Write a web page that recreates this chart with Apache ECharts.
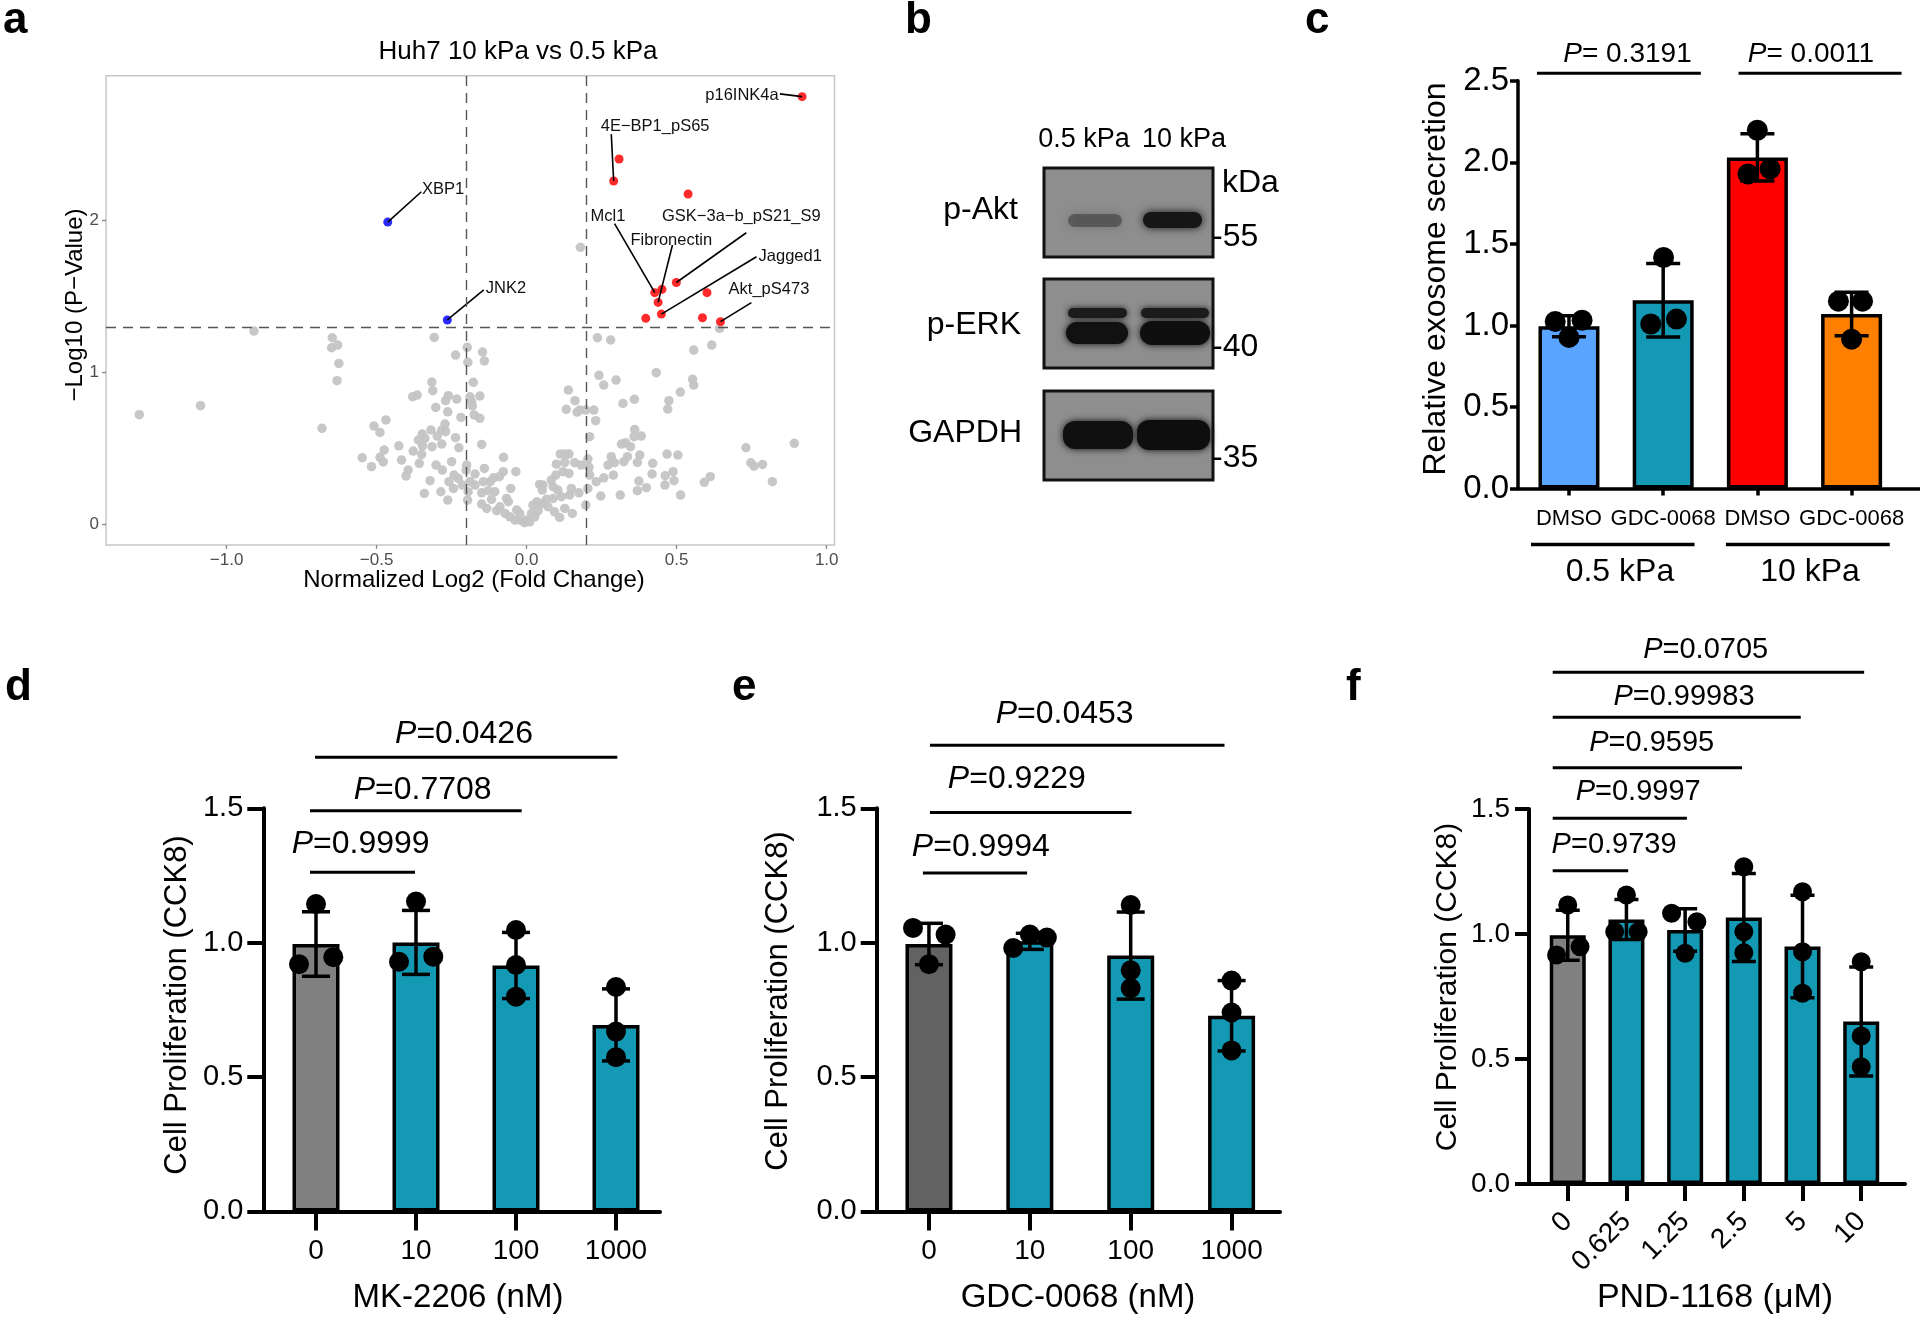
<!DOCTYPE html>
<html><head><meta charset="utf-8">
<script src="https://cdn.jsdelivr.net/npm/echarts@6/dist/echarts.min.js"></script>
<style>html,body{margin:0;padding:0;background:#fff}#c{width:1920px;height:1320px}</style>
</head><body><div id="c"></div>
<script>
const FF = '"Liberation Sans", Arial, Helvetica, sans-serif';

// ---------- Panel a: volcano ----------
const volcanoGray = [
[-0.909,1.272],[-1.291,0.721],[-1.087,0.780],[-0.648,1.228],[-0.650,1.162],[-0.630,1.180],[-0.626,1.059],[-0.632,0.945],[-0.682,0.631],[-0.308,1.230],[-0.237,1.114],[-0.198,1.165],[-0.147,1.134],[-0.141,1.075],[-0.196,1.066],[-0.178,0.934],[-0.316,0.936],[-0.313,0.879],[-0.380,0.839],[-0.365,0.850],[-0.261,0.846],[-0.270,0.813],[-0.233,0.824],[-0.303,0.769],[-0.263,0.740],[-0.189,0.839],[-0.183,0.806],[-0.181,0.778],[-0.156,0.844],[-0.219,0.703],[-0.175,0.719],[-0.156,0.697],[-0.469,0.686],[-0.509,0.646],[-0.489,0.604],[-0.319,0.620],[-0.272,0.659],[-0.283,0.620],[-0.270,0.609],[-0.298,0.580],[-0.348,0.593],[-0.361,0.554],[-0.339,0.565],[-0.347,0.516],[-0.315,0.510],[-0.283,0.527],[-0.237,0.569],[-0.226,0.503],[-0.150,0.525],[-0.426,0.516],[-0.475,0.488],[-0.378,0.481],[-0.350,0.459],[-0.548,0.437],[-0.489,0.440],[-0.478,0.409],[-0.517,0.378],[-0.417,0.422],[-0.358,0.400],[-0.395,0.356],[-0.402,0.317],[-0.302,0.389],[-0.281,0.356],[-0.250,0.411],[-0.200,0.389],[-0.202,0.356],[-0.172,0.330],[-0.141,0.367],[-0.077,0.440],[-0.078,0.345],[-0.036,0.345],[-0.242,0.323],[-0.228,0.301],[-0.214,0.257],[-0.259,0.279],[-0.244,0.235],[-0.322,0.286],[-0.341,0.202],[-0.286,0.213],[-0.263,0.158],[-0.189,0.279],[-0.172,0.257],[-0.144,0.279],[-0.122,0.279],[-0.111,0.305],[-0.091,0.312],[-0.195,0.213],[-0.197,0.158],[-0.150,0.206],[-0.128,0.220],[-0.106,0.213],[-0.117,0.163],[-0.150,0.132],[-0.133,0.103],[-0.100,0.088],[-0.089,0.114],[-0.067,0.169],[-0.061,0.147],[-0.053,0.235],[-0.072,0.070],[-0.056,0.048],[-0.039,0.026],[-0.033,0.092],
[0.236,1.228],[0.280,1.213],[0.432,0.998],[0.557,1.147],[0.617,1.180],[0.643,1.290],[0.241,0.980],[0.257,0.916],[0.298,0.949],[0.553,0.954],[0.557,0.916],[0.512,0.870],[0.139,0.883],[0.161,0.813],[0.132,0.756],[0.168,0.738],[0.177,0.751],[0.197,0.751],[0.224,0.751],[0.230,0.681],[0.321,0.795],[0.359,0.822],[0.474,0.813],[0.470,0.758],[0.210,0.576],[0.360,0.624],[0.358,0.576],[0.382,0.580],[0.316,0.527],[0.330,0.536],[0.346,0.510],[0.731,0.503],[0.892,0.532],[0.747,0.404],[0.758,0.382],[0.786,0.393],[0.819,0.279],[0.592,0.275],[0.612,0.312],[0.468,0.461],[0.504,0.455],[0.488,0.345],[0.462,0.319],[0.491,0.286],[0.461,0.257],[0.513,0.191],[0.418,0.330],[0.420,0.400],[0.377,0.455],[0.369,0.406],[0.336,0.444],[0.324,0.411],[0.282,0.444],[0.293,0.404],[0.271,0.389],[0.289,0.323],[0.374,0.283],[0.369,0.220],[0.399,0.240],[0.312,0.191],[0.247,0.185],[0.257,0.305],[0.232,0.279],[0.208,0.374],[0.204,0.428],[0.210,0.323],[0.204,0.235],[0.197,0.125],[0.112,0.461],[0.127,0.461],[0.141,0.461],[0.099,0.395],[0.127,0.406],[0.160,0.404],[0.182,0.389],[0.121,0.345],[0.141,0.334],[0.097,0.323],[0.082,0.290],[0.088,0.246],[0.104,0.224],[0.149,0.235],[0.174,0.206],[0.143,0.191],[0.116,0.180],[0.088,0.169],[0.127,0.103],[0.152,0.070],[0.110,0.044],[0.093,0.081],[0.071,0.114],[0.066,0.163],[0.043,0.261],[0.052,0.224],[0.054,0.136],[0.034,0.147],[0.021,0.125],[0.038,0.088],[0.016,0.070],[0.027,0.048],[-0.001,0.026],[0.010,0.015],[-0.023,0.026],[-0.007,0.009],[-0.023,0.070],[0.054,0.257],
[0.179,1.824]
];
const volcanoUp = [[0.918,2.817],[0.308,2.406],[0.290,2.261],[0.538,2.175],[0.427,1.525],[0.451,1.547],[0.438,1.461],[0.499,1.592],[0.601,1.525],[0.397,1.356],[0.449,1.384],[0.586,1.360],[0.646,1.334]];
const volcanoDown = [[-0.463,1.990],[-0.2645,1.345]];
const volcanoLabels = ['p16INK4a','4E\u2212BP1_pS65','GSK\u22123a\u2212b_pS21_S9','Mcl1','Fibronectin','Jagged1','Akt_pS473','XBP1','JNK2'];
const volcanoLabelPoint = [['up',0],['up',2],['up',7],['up',4],['up',6],['up',10],['up',12],['down',0],['down',1]];
const volcanoXTicks = [-1,-0.5,0,0.5,1];
const volcanoYTicks = [0,1,2];
const volcanoCutX = [-0.2,0.2];
const volcanoCutY = 1.301;
// layout of label anchors (line end x,y ; text x,y ; align)
const volcanoLabelLayout = [
  [0.844,2.835, 0.840,2.828,'right'],
  [0.282,2.570, 0.247,2.619,'left'],
  [0.732,1.920, 0.451,2.026,'left'],
  [0.293,1.980, 0.213,2.026,'left'],
  [0.486,1.839, 0.346,1.866,'left'],
  [0.766,1.762, 0.773,1.762,'left'],
  [0.749,1.459, 0.673,1.543,'left'],
  [-0.351,2.190, -0.349,2.205,'left'],
  [-0.143,1.544, -0.136,1.552,'left']
];

// ---------- Panel c ----------
const cCategories = ['DMSO','GDC-0068','DMSO','GDC-0068'];
const cGroups = ['0.5 kPa','10 kPa'];
const cMeans = [0.995, 1.155, 2.030, 1.070];
const cSD = [0.064, 0.225, 0.145, 0.133];
const cPoints = [[-0.146,1.025],[0.139,1.032],[0.0,0.927],[1.004,1.417],[0.868,1.009],[1.141,1.039],[1.999,2.197],[1.90,1.929],[2.135,1.960],[2.86,1.149],[3.116,1.149],[3.0,0.916]];
const cP = ['0.3191','0.0011'];

// ---------- Panel d ----------
const dCategories = ['0','10','100','1000'];
const dMeans = [0.995, 1.001, 0.915, 0.694];
const dSD = [0.120, 0.119, 0.123, 0.134];
const dPoints = [[0,1.144],[-0.17,0.920],[0.173,0.946],[1.0,1.153],[0.83,0.929],[1.173,0.948],[2,1.047],[2,0.917],[2,0.799],[3,0.835],[3,0.669],[3,0.574]];
const dP = ['0.9999','0.7708','0.0426'];

// ---------- Panel e ----------
const eCategories = ['0','10','100','1000'];
const eMeans = [0.995, 1.005, 0.952, 0.728];
const eSD = [0.077, 0.030, 0.162, 0.131];
const ePoints = [[-0.158,1.055],[0.165,1.030],[0,0.920],[0.835,0.980],[1.0,1.030],[1.169,1.019],[2,1.140],[2,0.897],[2,0.831],[3,0.859],[3,0.740],[3,0.599]];
const eP = ['0.9994','0.9229','0.0453'];

// ---------- Panel f ----------
const fCategories = ['0','0.625','1.25','2.5','5','10'];
const fMeans = [0.995, 1.058, 1.016, 1.066, 0.950, 0.650];
const fSD = [0.100, 0.080, 0.085, 0.176, 0.205, 0.218];
const fPoints = [[0,1.116],[-0.19,0.916],[0.21,0.949],[1,1.156],[0.8,1.009],[1.2,1.009],[1.77,1.083],[2.2,1.049],[2.0,0.923],[3,1.269],[3,1.009],[3,0.925],[4,1.169],[4,0.929],[4,0.763],[5,0.889],[5,0.592],[5,0.469]];
const fP = ['0.9739','0.9997','0.9595','0.99983','0.0705'];

// ---------- bracket layouts (x1, x2, yLine, xText, yText) ----------
const cBrackets = [[-0.34,1.40,2.547,0.621,2.663],[1.80,3.53,2.547,2.569,2.663]];
const cGroupBrackets = [[-0.403,1.333,-0.343,0.541,-0.51],[1.666,3.405,-0.343,2.558,-0.51]];
const dBrackets = [[-0.06,0.99,1.262,0.447,1.367],[-0.06,2.057,1.491,1.067,1.566],[-0.01,3.013,1.690,1.48,1.777]];
const eBrackets = [[-0.06,0.973,1.259,0.514,1.356],[0.01,2.008,1.484,0.871,1.607],[0.01,2.93,1.735,1.345,1.850]];
const fBrackets = [[-0.256,1.03,1.253,0.79,1.356],[-0.256,2.03,1.463,1.20,1.569],[-0.256,2.97,1.665,1.43,1.765],[-0.256,3.97,1.867,1.98,1.947],[-0.256,5.05,2.047,2.35,2.136]];

// ---------- styles ----------
const TEAL = '#1399b3';
const cColors = ['#58a4ff', TEAL, '#ff0000', '#ff8000'];
const dColors = ['#808080', TEAL, TEAL, TEAL];
const eColors = ['#626262', TEAL, TEAL, TEAL];
const fColors = ['#808080', TEAL, TEAL, TEAL, TEAL, TEAL];

const chart = echarts.init(document.getElementById('c'), null, {renderer:'canvas', width:1920, height:1320});

function panelAxes(gi, cats, xmin, xmax, ymax, o){
  const ticks = cats.map((_, i) => i);
  return {
    x: {gridIndex:gi, type:'value', min:xmin, max:xmax,
      axisLine:{show:true,onZero:false,lineStyle:{color:'#000',width:o.lw}},
      axisTick:{show:true,customValues:ticks,length:o.xTick,lineStyle:{color:'#000',width:o.lw}},
      axisLabel:{show:true,customValues:ticks,formatter:(v)=>cats[Math.round(v)],fontSize:o.xFont,fontFamily:FF,color:'#000',margin:o.xMargin,rotate:o.rotate||0},
      splitLine:{show:false}},
    y: {gridIndex:gi, type:'value', min:0, max:ymax, interval:0.5,
      axisLine:{show:true,onZero:false,lineStyle:{color:'#000',width:o.lw}},
      axisTick:{show:true,length:o.yTick,lineStyle:{color:'#000',width:o.lw}},
      axisLabel:{formatter:(v)=>v.toFixed(1),fontSize:o.yFont,fontFamily:FF,color:'#000',margin:o.yMargin},
      splitLine:{show:false}}
  };
}
function errRender(capHalf, lw){
  return (params, api) => {
    const x = api.value(0), m = api.value(1), s = api.value(2);
    const t = api.coord([x, m + s]), b = api.coord([x, m - s]);
    const st = {stroke:'#000', lineWidth:lw};
    return {type:'group', children:[
      {type:'line', shape:{x1:t[0],y1:t[1],x2:b[0],y2:b[1]}, style:st},
      {type:'line', shape:{x1:t[0]-capHalf,y1:t[1],x2:t[0]+capHalf,y2:t[1]}, style:st},
      {type:'line', shape:{x1:b[0]-capHalf,y1:b[1],x2:b[0]+capHalf,y2:b[1]}, style:st}
    ]};
  };
}
function bracketRender(texts, fontSize, italicP, lw){
  return (params, api) => {
    const i = params.dataIndex;
    const a = api.coord([api.value(0), api.value(2)]);
    const b = api.coord([api.value(1), api.value(2)]);
    const t = api.coord([api.value(3), api.value(4)]);
    return {type:'group', children:[
      {type:'line', shape:{x1:a[0],y1:a[1],x2:b[0],y2:b[1]}, style:{stroke:'#000', lineWidth:lw}},
      {type:'text', x:t[0], y:t[1], style:{text: italicP ? '{i|P}' + texts[i] : texts[i], fill:'#000', fontSize:fontSize, fontFamily:FF, align:'center', verticalAlign:'middle',
        rich:{i:{fontStyle:'italic', fontSize:fontSize, fontFamily:FF, fill:'#000'}}}}
    ]};
  };
}
function barPanel(idx, means, sds, colors, points, brackets, ptexts, o){
  return [
    {type:'bar', xAxisIndex:idx, yAxisIndex:idx, barWidth:o.barW, z:2, silent:true,
      data: means.map((m, i) => ({value:[i, m], itemStyle:{color:colors[i]}})),
      itemStyle:{borderColor:'#000', borderWidth:3.5}},
    {type:'custom', xAxisIndex:idx, yAxisIndex:idx, z:4, clip:false, silent:true,
      data: means.map((m, i) => [i, m, sds[i]]), renderItem: errRender(o.cap, 3.5)},
    {type:'scatter', xAxisIndex:idx, yAxisIndex:idx, z:5, silent:true, symbolSize:o.dot,
      itemStyle:{color:'#000', opacity:1}, data: points},
    {type:'custom', xAxisIndex:idx, yAxisIndex:idx, z:6, clip:false, silent:true,
      data: brackets, renderItem: bracketRender(ptexts, o.pFont, true, 3)}
  ];
}

const volX = {gridIndex:0, type:'value', min:-1.402, max:1.026,
  axisLine:{show:false,onZero:false},
  axisTick:{show:true,customValues:volcanoXTicks,length:4,lineStyle:{color:'#888',width:1.3}},
  axisLabel:{customValues:volcanoXTicks,formatter:(v)=>(v<0?'\u2212':'')+Math.abs(v).toFixed(1),color:'#4d4d4d',fontSize:17,fontFamily:FF,margin:7},
  splitLine:{show:false}};
const volY = {gridIndex:0, type:'value', min:-0.138, max:2.955,
  axisLine:{show:false,onZero:false},
  axisTick:{show:true,customValues:volcanoYTicks,length:4,lineStyle:{color:'#888',width:1.3}},
  axisLabel:{customValues:volcanoYTicks,formatter:(v)=>String(v),color:'#4d4d4d',fontSize:17,fontFamily:FF,margin:7},
  splitLine:{show:false}};

const cAx = panelAxes(1, cCategories, -0.541, 3.726, 2.5, {lw:3.5,xTick:7,yTick:8,xFont:22,yFont:33,xMargin:19,yMargin:9});
const dAx = panelAxes(2, dCategories, -0.527, 3.44, 1.5, {lw:4,xTick:19,yTick:16,xFont:28,yFont:29,xMargin:26,yMargin:20});
const eAx = panelAxes(3, eCategories, -0.518, 3.48, 1.5, {lw:4,xTick:19,yTick:16,xFont:28,yFont:29,xMargin:26,yMargin:20});
const fAx = panelAxes(4, fCategories, -0.66, 5.746, 1.5, {lw:4,xTick:17,yTick:14,xFont:28,yFont:28,xMargin:33,yMargin:19,rotate:45});

const labelData = volcanoLabelLayout.map((l, i) => {
  const ref = volcanoLabelPoint[i];
  const p = (ref[0] === 'up' ? volcanoUp : volcanoDown)[ref[1]];
  return [p[0], p[1], l[0], l[1], l[2], l[3]];
});

function T(text, x, y, size, o){
  o = o || {};
  return {type:'text', x:x, y:y, rotation:o.rot||0, z:100, silent:true,
    style:{text:text, fontSize:size, fontFamily:FF, fontWeight:o.bold?'bold':'normal', fill:o.color||'#000',
      align:o.align||'center', verticalAlign:'middle'}};
}
function band(x, y, w, h, fill, blur){
  return {type:'rect', z:96, silent:true, shape:{x:x, y:y, width:w, height:h, r:Math.min(h/2, 12)},
    style:{fill:fill, shadowBlur:blur, shadowColor:fill}};
}
function blotBox(y, h){
  return {type:'rect', z:95, silent:true, shape:{x:1044, y:y, width:169, height:h},
    style:{fill:'#8e8e8e', stroke:'#111', lineWidth:3}};
}

const graphics = [
  T('a', 3, 21, 44, {bold:true, align:'left'}),
  T('b', 905, 21, 44, {bold:true, align:'left'}),
  T('c', 1305, 21, 44, {bold:true, align:'left'}),
  T('d', 5, 688, 44, {bold:true, align:'left'}),
  T('e', 732, 688, 44, {bold:true, align:'left'}),
  T('f', 1346, 688, 44, {bold:true, align:'left'}),
  T('Huh7 10 kPa vs 0.5 kPa', 518, 52, 26),
  T('Normalized Log2 (Fold Change)', 474, 580, 24),
  T('\u2212Log10 (P\u2212Value)', 75, 305, 24, {rot:Math.PI/2}),
  T('Relative exosome secretion', 1436, 279, 32, {rot:Math.PI/2}),
  T('Cell Proliferation (CCK8)', 177, 1005, 31, {rot:Math.PI/2}),
  T('Cell Proliferation (CCK8)', 778, 1001, 31, {rot:Math.PI/2}),
  T('Cell Proliferation (CCK8)', 1448, 987, 30, {rot:Math.PI/2}),
  T('MK-2206 (nM)', 458, 1298, 33),
  T('GDC-0068 (nM)', 1078, 1298, 33),
  T('PND-1168 (\u03bcM)', 1715, 1298, 34),
  // blot
  T('0.5 kPa', 1084, 140, 27),
  T('10 kPa', 1184, 140, 27),
  T('p-Akt', 1018, 210, 32, {align:'right'}),
  T('p-ERK', 1021, 325, 32, {align:'right'}),
  T('GAPDH', 1022, 433, 32, {align:'right'}),
  T('kDa', 1222, 183, 32, {align:'left'}),
  T('-55', 1212, 237, 32, {align:'left'}),
  T('-40', 1212, 347, 32, {align:'left'}),
  T('-35', 1212, 458, 32, {align:'left'}),
  blotBox(168, 89), blotBox(279, 89), blotBox(391, 89),
  band(1068, 214, 54, 13, 'rgba(50,50,50,0.5)', 10),
  band(1143, 212, 59, 16, '#161616', 8),
  band(1068, 308, 59, 10, '#1c1c1c', 6),
  band(1066, 322, 62, 22, '#111111', 7),
  band(1141, 308, 68, 10, '#1c1c1c', 6),
  band(1140, 321, 70, 24, '#0f0f0f', 7),
  band(1063, 421, 70, 28, '#101010', 7),
  band(1137, 420, 73, 30, '#0e0e0e', 7)
];

const option = {
  animation:false,
  backgroundColor:'#fff',
  grid:[
    {left:106, top:75.7, width:728.5, height:469.3, show:true, borderColor:'#c6c6c6', borderWidth:1.5, backgroundColor:'rgba(0,0,0,0)'},
    {left:1518, top:80.8, width:402, height:407.8},
    {left:263.3, top:808.3, width:396.7, height:403.1},
    {left:876.7, top:808.3, width:403.3, height:403.1},
    {left:1529, top:809, width:376, height:375}
  ],
  xAxis:[volX, cAx.x, dAx.x, eAx.x, fAx.x],
  yAxis:[volY, cAx.y, dAx.y, eAx.y, fAx.y],
  graphic: graphics,
  series: [
    {type:'scatter', xAxisIndex:0, yAxisIndex:0, symbolSize:9.5, z:2, silent:true,
      itemStyle:{color:'#c4c4c4', opacity:0.95}, data: volcanoGray,
      markLine:{silent:true, symbol:['none','none'], label:{show:false},
        lineStyle:{type:[10,7], color:'#555', width:1.4},
        data: volcanoCutX.map(v => ({xAxis:v})).concat([{yAxis:volcanoCutY}])}},
    {type:'scatter', xAxisIndex:0, yAxisIndex:0, symbolSize:9, z:3, silent:true,
      itemStyle:{color:'#ff2b2b', opacity:1}, data: volcanoUp},
    {type:'scatter', xAxisIndex:0, yAxisIndex:0, symbolSize:9, z:3, silent:true,
      itemStyle:{color:'#2b2bff', opacity:1}, data: volcanoDown},
    {type:'custom', xAxisIndex:0, yAxisIndex:0, z:4, clip:false, silent:true, data: labelData,
      renderItem:(params, api) => {
        const i = params.dataIndex;
        const p = api.coord([api.value(0), api.value(1)]);
        const l = api.coord([api.value(2), api.value(3)]);
        const t = api.coord([api.value(4), api.value(5)]);
        return {type:'group', children:[
          {type:'line', shape:{x1:p[0],y1:p[1],x2:l[0],y2:l[1]}, style:{stroke:'#000', lineWidth:1.6}},
          {type:'text', x:t[0], y:t[1], style:{text:volcanoLabels[i], fontSize:16.5, fontFamily:FF, fill:'#111',
            align:volcanoLabelLayout[i][4], verticalAlign:'middle'}}
        ]};
      }},
    ...barPanel(1, cMeans, cSD, cColors, cPoints, cBrackets, cP.map(v => '= ' + v), {barW:61, cap:17, dot:21, pFont:28}),
    {type:'custom', xAxisIndex:1, yAxisIndex:1, z:6, clip:false, silent:true, data: cGroupBrackets,
      renderItem: bracketRender(cGroups, 32, false, 3.5)},
    ...barPanel(2, dMeans, dSD, dColors, dPoints, dBrackets, dP.map(v => '=' + v), {barW:47, cap:14, dot:20, pFont:32}),
    ...barPanel(3, eMeans, eSD, eColors, ePoints, eBrackets, eP.map(v => '=' + v), {barW:47, cap:14, dot:20, pFont:32}),
    ...barPanel(4, fMeans, fSD, fColors, fPoints, fBrackets, fP.map(v => '=' + v), {barW:36, cap:12, dot:19, pFont:29})
  ]
};
chart.setOption(option);
</script></body></html>
